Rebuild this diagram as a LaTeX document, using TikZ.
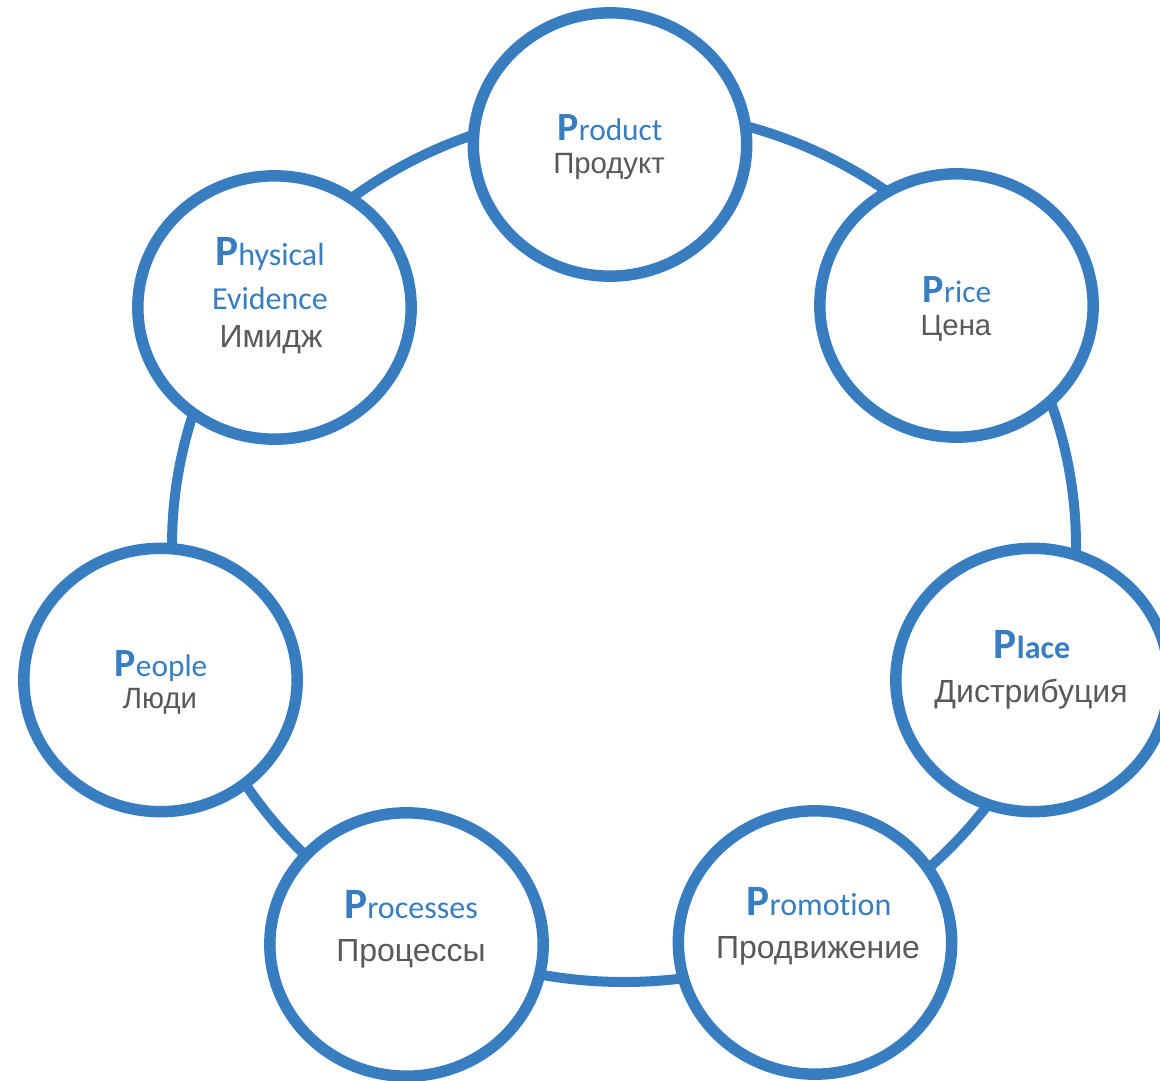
\documentclass[tikz,border=0pt]{standalone}
\usepackage{fontspec}
\setmainfont{Carlito}[Ligatures=NoCommon]
\newfontfamily\rufont{Liberation Sans}
\usetikzlibrary{shapes.geometric}

\definecolor{pblue}{RGB}{55,125,192}
\definecolor{rgray}{RGB}{89,89,89}
\newcommand{\capP}[1]{{\fontsize{#1}{#1}\selectfont\bfseries P}}

\begin{document}
\begin{tikzpicture}[
    x=0.75pt, y=-0.75pt,
    ring/.style={draw=pblue, line width=7.5pt},
    pcircle/.style={ellipse, draw=pblue, fill=white, line width=8.6pt, minimum width=205pt, minimum height=197.5pt, inner sep=0pt},
    enSmall/.style={anchor=base, text=pblue, inner sep=0pt, font=\fontsize{23.5}{23.5}\selectfont},
    enBig/.style={anchor=base, text=pblue, inner sep=0pt, font=\fontsize{24}{24}\selectfont},
    ruSmall/.style={anchor=base, text=rgray, inner sep=0pt, font=\rufont\fontsize{22}{22}\selectfont},
    ruBig/.style={anchor=base, text=rgray, inner sep=0pt, font=\rufont\fontsize{24}{24}\selectfont}
  ]
  \useasboundingbox (0,0) rectangle (1160,1081);

  % ring behind the circles
  \coordinate (ringc) at (624,546);
  \draw[ring] (ringc) ellipse [x radius=452, y radius=436];

  % the seven circles
  \node[pcircle] (product)   at (610,144.5) {};
  \node[pcircle] (price)     at (956.5,305.5) {};
  \node[pcircle] (place)     at (1032.5,680) {};
  \node[pcircle] (promotion) at (815,942.5) {};
  \node[pcircle] (processes) at (406.5,944.5) {};
  \node[pcircle] (people)    at (160.5,680) {};
  \node[pcircle] (physical)  at (274.5,307.5) {};

  % labels
  \node[enSmall] (productA) at (610,140) {\capP{30}roduct};
  \node[ruSmall] (productB) at (609,173) {Продукт};

  \node[enSmall] (priceA) at (957,302) {\capP{30}rice};
  \node[ruSmall] (priceB) at (956,335) {Цена};

  \node[enBig] (placeA) at (1032,658) {\capP{32.5}\textbf{lace}};
  \node[ruBig] (placeB) at (1031,702) {Дистрибуция};

  \node[enBig] (promotionA) at (819,915) {\capP{32.5}romotion};
  \node[ruBig] (promotionB) at (818,958) {Продвижение};

  \node[enBig] (processesA) at (411,918) {\capP{32.5}rocesses};
  \node[ruBig] (processesB) at (411,961) {Процессы};

  \node[enSmall] (peopleA) at (161,676) {\capP{30}eople};
  \node[ruSmall] (peopleB) at (160,708) {Люди};

  \node[enBig] (physicalA) at (270,265) {\capP{32.5}hysical};
  \node[enBig] (physicalB) at (270,309) {Evidence};
  \node[ruBig] (physicalC) at (271,347) {Имидж};
\end{tikzpicture}
\end{document}
